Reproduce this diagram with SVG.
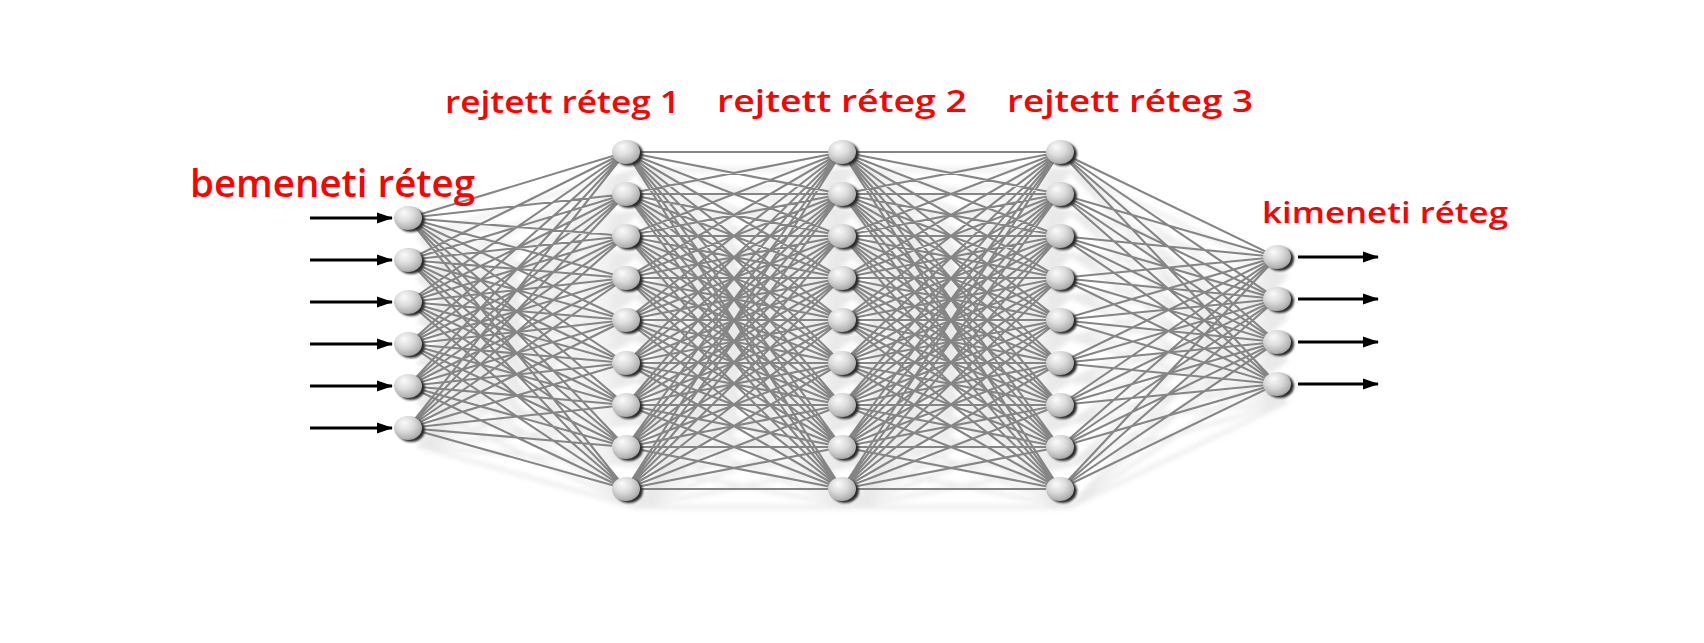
<svg xmlns="http://www.w3.org/2000/svg" xmlns:xlink="http://www.w3.org/1999/xlink" width="1704" height="643" viewBox="0 0 1704 643">
<defs>
<radialGradient id="sph" cx="0.42" cy="0.38" r="0.72" fx="0.36" fy="0.28">
<stop offset="0" stop-color="#fbfbfb"/>
<stop offset="0.45" stop-color="#dcdcdc"/>
<stop offset="0.8" stop-color="#b4b4b4"/>
<stop offset="1" stop-color="#8c8c8c"/>
</radialGradient>
<filter id="blur" x="-20%" y="-20%" width="140%" height="140%"><feGaussianBlur stdDeviation="2.5"/></filter>
<filter id="blur1" x="-30%" y="-30%" width="160%" height="160%"><feGaussianBlur stdDeviation="0.8"/></filter>
<marker id="ah" markerUnits="userSpaceOnUse" markerWidth="16" markerHeight="12" refX="15" refY="6" orient="auto"><path d="M0,0.5 L16,6 L0,11.5 z" fill="#000"/></marker>
<style>
.lbl{fill:#ff0000;font-family:"Open Sans","Liberation Sans",sans-serif;font-weight:600}
.ar{stroke:#000;stroke-width:3;fill:none;marker-end:url(#ah)}
.nd{fill:#2c2c2c;filter:url(#blur1)}
.nb{fill:url(#sph)}
</style>
</defs>
<rect width="1704" height="643" fill="#ffffff"/>

<g id="shadows" filter="url(#blur)" opacity="0.8">
<use xlink:href="#edgeset" href="#edgeset" stroke="#e4e4e4" stroke-width="3.5" transform="translate(10,18)"/>
</g>

<g id="connectors" stroke="#858585" stroke-width="2.1" fill="none">
<g id="edgeset">
<path d="M408 218L626 152M408 218L626 194M408 218L626 236M408 218L626 278M408 218L626 320M408 218L626 363M408 218L626 405M408 218L626 447M408 218L626 489M408 260L626 152M408 260L626 194M408 260L626 236M408 260L626 278M408 260L626 320M408 260L626 363M408 260L626 405M408 260L626 447M408 260L626 489M408 302L626 152M408 302L626 194M408 302L626 236M408 302L626 278M408 302L626 320M408 302L626 363M408 302L626 405M408 302L626 447M408 302L626 489M408 344L626 152M408 344L626 194M408 344L626 236M408 344L626 278M408 344L626 320M408 344L626 363M408 344L626 405M408 344L626 447M408 344L626 489M408 386L626 152M408 386L626 194M408 386L626 236M408 386L626 278M408 386L626 320M408 386L626 363M408 386L626 405M408 386L626 447M408 386L626 489M408 428L626 152M408 428L626 194M408 428L626 236M408 428L626 278M408 428L626 320M408 428L626 363M408 428L626 405M408 428L626 447M408 428L626 489"/>
<path d="M626 152L842 152M626 152L842 194M626 152L842 236M626 152L842 278M626 152L842 320M626 152L842 363M626 152L842 405M626 152L842 447M626 152L842 489M626 194L842 152M626 194L842 194M626 194L842 236M626 194L842 278M626 194L842 320M626 194L842 363M626 194L842 405M626 194L842 447M626 194L842 489M626 236L842 152M626 236L842 194M626 236L842 236M626 236L842 278M626 236L842 320M626 236L842 363M626 236L842 405M626 236L842 447M626 236L842 489M626 278L842 152M626 278L842 194M626 278L842 236M626 278L842 278M626 278L842 320M626 278L842 363M626 278L842 405M626 278L842 447M626 278L842 489M626 320L842 152M626 320L842 194M626 320L842 236M626 320L842 278M626 320L842 320M626 320L842 363M626 320L842 405M626 320L842 447M626 320L842 489M626 363L842 152M626 363L842 194M626 363L842 236M626 363L842 278M626 363L842 320M626 363L842 363M626 363L842 405M626 363L842 447M626 363L842 489M626 405L842 152M626 405L842 194M626 405L842 236M626 405L842 278M626 405L842 320M626 405L842 363M626 405L842 405M626 405L842 447M626 405L842 489M626 447L842 152M626 447L842 194M626 447L842 236M626 447L842 278M626 447L842 320M626 447L842 363M626 447L842 405M626 447L842 447M626 447L842 489M626 489L842 152M626 489L842 194M626 489L842 236M626 489L842 278M626 489L842 320M626 489L842 363M626 489L842 405M626 489L842 447M626 489L842 489"/>
<path d="M842 152L1060 152M842 152L1060 194M842 152L1060 236M842 152L1060 278M842 152L1060 320M842 152L1060 363M842 152L1060 405M842 152L1060 447M842 152L1060 489M842 194L1060 152M842 194L1060 194M842 194L1060 236M842 194L1060 278M842 194L1060 320M842 194L1060 363M842 194L1060 405M842 194L1060 447M842 194L1060 489M842 236L1060 152M842 236L1060 194M842 236L1060 236M842 236L1060 278M842 236L1060 320M842 236L1060 363M842 236L1060 405M842 236L1060 447M842 236L1060 489M842 278L1060 152M842 278L1060 194M842 278L1060 236M842 278L1060 278M842 278L1060 320M842 278L1060 363M842 278L1060 405M842 278L1060 447M842 278L1060 489M842 320L1060 152M842 320L1060 194M842 320L1060 236M842 320L1060 278M842 320L1060 320M842 320L1060 363M842 320L1060 405M842 320L1060 447M842 320L1060 489M842 363L1060 152M842 363L1060 194M842 363L1060 236M842 363L1060 278M842 363L1060 320M842 363L1060 363M842 363L1060 405M842 363L1060 447M842 363L1060 489M842 405L1060 152M842 405L1060 194M842 405L1060 236M842 405L1060 278M842 405L1060 320M842 405L1060 363M842 405L1060 405M842 405L1060 447M842 405L1060 489M842 447L1060 152M842 447L1060 194M842 447L1060 236M842 447L1060 278M842 447L1060 320M842 447L1060 363M842 447L1060 405M842 447L1060 447M842 447L1060 489M842 489L1060 152M842 489L1060 194M842 489L1060 236M842 489L1060 278M842 489L1060 320M842 489L1060 363M842 489L1060 405M842 489L1060 447M842 489L1060 489"/>
<path d="M1060 152L1277 257M1060 152L1277 299M1060 152L1277 342M1060 152L1277 384M1060 194L1277 257M1060 194L1277 299M1060 194L1277 342M1060 194L1277 384M1060 236L1277 257M1060 236L1277 299M1060 236L1277 342M1060 236L1277 384M1060 278L1277 257M1060 278L1277 299M1060 278L1277 342M1060 278L1277 384M1060 320L1277 257M1060 320L1277 299M1060 320L1277 342M1060 320L1277 384M1060 363L1277 257M1060 363L1277 299M1060 363L1277 342M1060 363L1277 384M1060 405L1277 257M1060 405L1277 299M1060 405L1277 342M1060 405L1277 384M1060 447L1277 257M1060 447L1277 299M1060 447L1277 342M1060 447L1277 384M1060 489L1277 257M1060 489L1277 299M1060 489L1277 342M1060 489L1277 384"/>
</g>
</g>

<g id="arrows">
<line class="ar" x1="310" y1="218" x2="392" y2="218"/>
<line class="ar" x1="310" y1="260" x2="392" y2="260"/>
<line class="ar" x1="310" y1="302" x2="392" y2="302"/>
<line class="ar" x1="310" y1="344" x2="392" y2="344"/>
<line class="ar" x1="310" y1="386" x2="392" y2="386"/>
<line class="ar" x1="310" y1="428" x2="392" y2="428"/>
<line class="ar" x1="1298" y1="257" x2="1378" y2="257"/>
<line class="ar" x1="1298" y1="299" x2="1378" y2="299"/>
<line class="ar" x1="1298" y1="342" x2="1378" y2="342"/>
<line class="ar" x1="1298" y1="384" x2="1378" y2="384"/>
</g>

<g id="input-layer">
<g id="in1"><ellipse class="nd" cx="411" cy="220" rx="14" ry="12"/><ellipse class="nb" cx="408" cy="218" rx="14" ry="12"/></g>
<g id="in2"><ellipse class="nd" cx="411" cy="262" rx="14" ry="12"/><ellipse class="nb" cx="408" cy="260" rx="14" ry="12"/></g>
<g id="in3"><ellipse class="nd" cx="411" cy="304" rx="14" ry="12"/><ellipse class="nb" cx="408" cy="302" rx="14" ry="12"/></g>
<g id="in4"><ellipse class="nd" cx="411" cy="346" rx="14" ry="12"/><ellipse class="nb" cx="408" cy="344" rx="14" ry="12"/></g>
<g id="in5"><ellipse class="nd" cx="411" cy="388" rx="14" ry="12"/><ellipse class="nb" cx="408" cy="386" rx="14" ry="12"/></g>
<g id="in6"><ellipse class="nd" cx="411" cy="430" rx="14" ry="12"/><ellipse class="nb" cx="408" cy="428" rx="14" ry="12"/></g>
</g>

<g id="hidden-1">
<g id="h1n1"><ellipse class="nd" cx="629" cy="154" rx="14" ry="12"/><ellipse class="nb" cx="626" cy="152" rx="14" ry="12"/></g>
<g id="h1n2"><ellipse class="nd" cx="629" cy="196" rx="14" ry="12"/><ellipse class="nb" cx="626" cy="194" rx="14" ry="12"/></g>
<g id="h1n3"><ellipse class="nd" cx="629" cy="238" rx="14" ry="12"/><ellipse class="nb" cx="626" cy="236" rx="14" ry="12"/></g>
<g id="h1n4"><ellipse class="nd" cx="629" cy="280" rx="14" ry="12"/><ellipse class="nb" cx="626" cy="278" rx="14" ry="12"/></g>
<g id="h1n5"><ellipse class="nd" cx="629" cy="322" rx="14" ry="12"/><ellipse class="nb" cx="626" cy="320" rx="14" ry="12"/></g>
<g id="h1n6"><ellipse class="nd" cx="629" cy="365" rx="14" ry="12"/><ellipse class="nb" cx="626" cy="363" rx="14" ry="12"/></g>
<g id="h1n7"><ellipse class="nd" cx="629" cy="407" rx="14" ry="12"/><ellipse class="nb" cx="626" cy="405" rx="14" ry="12"/></g>
<g id="h1n8"><ellipse class="nd" cx="629" cy="449" rx="14" ry="12"/><ellipse class="nb" cx="626" cy="447" rx="14" ry="12"/></g>
<g id="h1n9"><ellipse class="nd" cx="629" cy="491" rx="14" ry="12"/><ellipse class="nb" cx="626" cy="489" rx="14" ry="12"/></g>
</g>

<g id="hidden-2">
<g id="h2n1"><ellipse class="nd" cx="845" cy="154" rx="14" ry="12"/><ellipse class="nb" cx="842" cy="152" rx="14" ry="12"/></g>
<g id="h2n2"><ellipse class="nd" cx="845" cy="196" rx="14" ry="12"/><ellipse class="nb" cx="842" cy="194" rx="14" ry="12"/></g>
<g id="h2n3"><ellipse class="nd" cx="845" cy="238" rx="14" ry="12"/><ellipse class="nb" cx="842" cy="236" rx="14" ry="12"/></g>
<g id="h2n4"><ellipse class="nd" cx="845" cy="280" rx="14" ry="12"/><ellipse class="nb" cx="842" cy="278" rx="14" ry="12"/></g>
<g id="h2n5"><ellipse class="nd" cx="845" cy="322" rx="14" ry="12"/><ellipse class="nb" cx="842" cy="320" rx="14" ry="12"/></g>
<g id="h2n6"><ellipse class="nd" cx="845" cy="365" rx="14" ry="12"/><ellipse class="nb" cx="842" cy="363" rx="14" ry="12"/></g>
<g id="h2n7"><ellipse class="nd" cx="845" cy="407" rx="14" ry="12"/><ellipse class="nb" cx="842" cy="405" rx="14" ry="12"/></g>
<g id="h2n8"><ellipse class="nd" cx="845" cy="449" rx="14" ry="12"/><ellipse class="nb" cx="842" cy="447" rx="14" ry="12"/></g>
<g id="h2n9"><ellipse class="nd" cx="845" cy="491" rx="14" ry="12"/><ellipse class="nb" cx="842" cy="489" rx="14" ry="12"/></g>
</g>

<g id="hidden-3">
<g id="h3n1"><ellipse class="nd" cx="1063" cy="154" rx="14" ry="12"/><ellipse class="nb" cx="1060" cy="152" rx="14" ry="12"/></g>
<g id="h3n2"><ellipse class="nd" cx="1063" cy="196" rx="14" ry="12"/><ellipse class="nb" cx="1060" cy="194" rx="14" ry="12"/></g>
<g id="h3n3"><ellipse class="nd" cx="1063" cy="238" rx="14" ry="12"/><ellipse class="nb" cx="1060" cy="236" rx="14" ry="12"/></g>
<g id="h3n4"><ellipse class="nd" cx="1063" cy="280" rx="14" ry="12"/><ellipse class="nb" cx="1060" cy="278" rx="14" ry="12"/></g>
<g id="h3n5"><ellipse class="nd" cx="1063" cy="322" rx="14" ry="12"/><ellipse class="nb" cx="1060" cy="320" rx="14" ry="12"/></g>
<g id="h3n6"><ellipse class="nd" cx="1063" cy="365" rx="14" ry="12"/><ellipse class="nb" cx="1060" cy="363" rx="14" ry="12"/></g>
<g id="h3n7"><ellipse class="nd" cx="1063" cy="407" rx="14" ry="12"/><ellipse class="nb" cx="1060" cy="405" rx="14" ry="12"/></g>
<g id="h3n8"><ellipse class="nd" cx="1063" cy="449" rx="14" ry="12"/><ellipse class="nb" cx="1060" cy="447" rx="14" ry="12"/></g>
<g id="h3n9"><ellipse class="nd" cx="1063" cy="491" rx="14" ry="12"/><ellipse class="nb" cx="1060" cy="489" rx="14" ry="12"/></g>
</g>

<g id="output-layer">
<g id="out1"><ellipse class="nd" cx="1280" cy="259" rx="14" ry="12"/><ellipse class="nb" cx="1277" cy="257" rx="14" ry="12"/></g>
<g id="out2"><ellipse class="nd" cx="1280" cy="301" rx="14" ry="12"/><ellipse class="nb" cx="1277" cy="299" rx="14" ry="12"/></g>
<g id="out3"><ellipse class="nd" cx="1280" cy="344" rx="14" ry="12"/><ellipse class="nb" cx="1277" cy="342" rx="14" ry="12"/></g>
<g id="out4"><ellipse class="nd" cx="1280" cy="386" rx="14" ry="12"/><ellipse class="nb" cx="1277" cy="384" rx="14" ry="12"/></g>
</g>

<g id="labels">
<text class="lbl" x="445" y="113" font-size="31" textLength="235" lengthAdjust="spacingAndGlyphs">rejtett réteg 1</text>
<text class="lbl" x="717" y="112" font-size="31" textLength="250" lengthAdjust="spacingAndGlyphs">rejtett réteg 2</text>
<text class="lbl" x="1007" y="112" font-size="31" textLength="246" lengthAdjust="spacingAndGlyphs">rejtett réteg 3</text>
<text class="lbl" x="190" y="197" font-size="38" textLength="285" lengthAdjust="spacingAndGlyphs">bemeneti réteg</text>
<text class="lbl" x="1262" y="223" font-size="29" textLength="246" lengthAdjust="spacingAndGlyphs">kimeneti réteg</text>
</g>
</svg>
